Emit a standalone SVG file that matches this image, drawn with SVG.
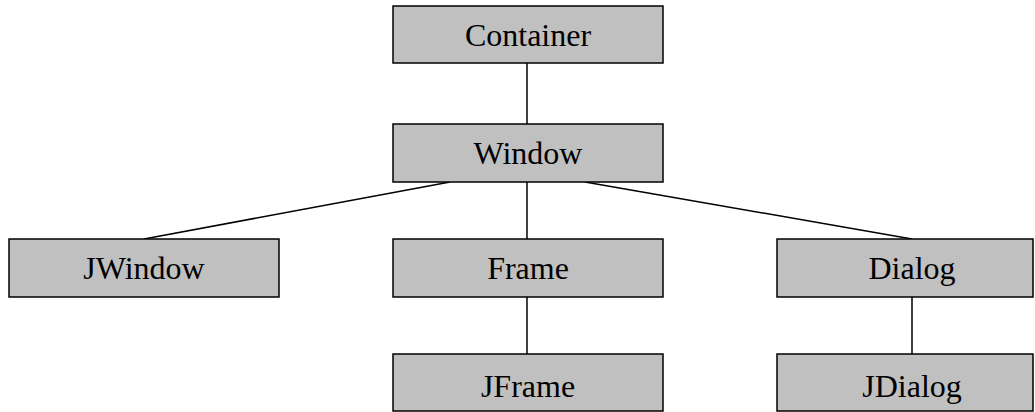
<svg xmlns="http://www.w3.org/2000/svg" width="1035" height="412" viewBox="0 0 1035 412">
  <style>
    .box { fill: #c0c0c0; stroke: #000; stroke-width: 1.5; }
    .label { font-family: "Liberation Serif", "Times New Roman", serif; font-size: 32px; fill: #000; text-anchor: middle; }
    .link { stroke: #000; stroke-width: 1.5; fill: none; }
  </style>
  <rect width="1035" height="412" fill="#fff"/>

  <g id="connectors">
    <line class="link" x1="527" y1="63" x2="527" y2="124"/>
    <line class="link" x1="450" y1="182" x2="144" y2="239"/>
    <line class="link" x1="527" y1="182" x2="527" y2="239"/>
    <line class="link" x1="585" y1="182" x2="912" y2="239"/>
    <line class="link" x1="527" y1="297" x2="527" y2="354"/>
    <line class="link" x1="912" y1="297" x2="912" y2="354"/>
  </g>

  <g id="container">
    <rect class="box" x="393" y="6" width="270" height="57"/>
    <text class="label" x="528" y="46">Container</text>
  </g>
  <g id="window">
    <rect class="box" x="393" y="124" width="270" height="58"/>
    <text class="label" x="528" y="164">Window</text>
  </g>
  <g id="jwindow">
    <rect class="box" x="9" y="239" width="270" height="58"/>
    <text class="label" x="144" y="279">JWindow</text>
  </g>
  <g id="frame">
    <rect class="box" x="393" y="239" width="270" height="58"/>
    <text class="label" x="528" y="279">Frame</text>
  </g>
  <g id="dialog">
    <rect class="box" x="777" y="239" width="256" height="58"/>
    <text class="label" x="912" y="279">Dialog</text>
  </g>
  <g id="jframe">
    <rect class="box" x="393" y="354" width="270" height="57"/>
    <text class="label" x="528" y="397">JFrame</text>
  </g>
  <g id="jdialog">
    <rect class="box" x="777" y="354" width="256" height="57"/>
    <text class="label" x="912" y="397">JDialog</text>
  </g>
</svg>
